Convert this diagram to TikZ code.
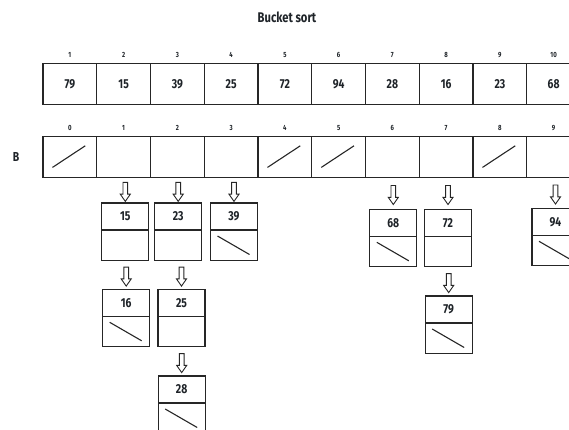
\documentclass[tikz,border=0pt]{standalone}
\usepackage{fontspec}
\setmainfont{Fira Sans}[FakeStretch=0.8]
\usepackage{tikz}
\usetikzlibrary{positioning,shapes.arrows}
\definecolor{cInk}{HTML}{1E2328}
\definecolor{cLine}{HTML}{262626}
\tikzset{
  cell/.style={draw=cLine,line width=1.35pt,minimum width=53.75pt,minimum height=40.6pt,inner sep=0pt,outer sep=0pt,font=\fontsize{13}{15}\selectfont\bfseries,text=cInk},
  idx/.style={font=\fontsize{7.5}{9}\selectfont\bfseries,text=cInk,inner sep=0pt},
  valbox/.style={draw=cLine,line width=1.35pt,minimum width=47pt,minimum height=27pt,inner sep=0pt,outer sep=0pt,font=\fontsize{13}{15}\selectfont\bfseries,text=cInk},
  ptrbox/.style={draw=cLine,line width=1.35pt,minimum width=47pt,minimum height=30.5pt,inner sep=0pt,outer sep=0pt},
  nil/.style={line width=1.1pt,cLine},
  harrow/.style={single arrow,draw=cLine,fill=white,line width=0.9pt,inner sep=1.9pt,minimum height=19pt,single arrow head extend=2.7pt,single arrow tip angle=70,single arrow head indent=0pt,rotate=-90},
}

\begin{document}
\begin{tikzpicture}[x=1pt,y=-1pt]
  \useasboundingbox (0,0) rectangle (569,429);
  \node[font=\fontsize{14}{16}\selectfont\bfseries,text=cInk] (title) at (287,17) {Bucket sort};
  % input array
  \foreach \v [count=\i] in {79,15,39,25,72,94,28,16,23,68} {
    \node[cell] (a\i) at ({43+(\i-0.5)*53.75},84) {\v};
    \node[idx,above=6pt of a\i] {\i};
  }
  % bucket array B
  \node[font=\fontsize{13}{15}\selectfont\bfseries,text=cInk] (blbl) at (16,157) {B};
  \foreach \i in {0,...,9} {
    \node[cell] (b\i) at ({43+(\i+0.5)*53.75},157.1) {};
    \node[idx,above=6pt of b\i] {\i};
  }
  \foreach \i in {0,4,5,8}
    \draw[nil] ([shift={(9.5,-10)}]b\i.south west) -- ([shift={(-11.5,9)}]b\i.north east);

  % bucket lists
  \node[valbox] (l15) at (125.3,216.5) {15};
  \node[ptrbox,below=0pt of l15] (l15p) {};
  \node[valbox] (l23) at (178.2,216.5) {23};
  \node[ptrbox,below=0pt of l23] (l23p) {};
  \node[valbox] (l39) at (234,216.5) {39};
  \node[ptrbox,below=0pt of l39] (l39p) {};
  \node[valbox] (l16) at (126.2,302.8) {16};
  \node[ptrbox,below=0pt of l16] (l16p) {};
  \node[valbox] (l25) at (181.5,302.8) {25};
  \node[ptrbox,below=0pt of l25] (l25p) {};
  \node[valbox] (l28) at (181.7,389.5) {28};
  \node[ptrbox,below=0pt of l28] (l28p) {};
  \node[valbox] (l68) at (393.3,222.8) {68};
  \node[ptrbox,below=0pt of l68] (l68p) {};
  \node[valbox] (l72) at (448,222.8) {72};
  \node[ptrbox,below=0pt of l72] (l72p) {};
  \node[valbox] (l79) at (448.7,309.5) {79};
  \node[ptrbox,below=0pt of l79] (l79p) {};
  \node[valbox] (l94) at (555.5,221.8) {94};
  \node[ptrbox,below=0pt of l94] (l94p) {};

  % null pointers
  \foreach \n in {l39p,l16p,l28p,l68p,l79p,l94p}
    \draw[nil] ([shift={(7,6)}]\n.north west) -- ([shift={(-8,-6)}]\n.south east);

  % links
  \path (l15.north |- b1.south) -- (l15.north) node[midway,harrow] {};
  \path (l23.north |- b2.south) -- (l23.north) node[midway,harrow] {};
  \path (l39.north |- b3.south) -- (l39.north) node[midway,harrow] {};
  \path (l68.north |- b6.south) -- (l68.north) node[midway,harrow] {};
  \path (l72.north |- b7.south) -- (l72.north) node[midway,harrow] {};
  \path (l94.north |- b9.south) -- (l94.north) node[midway,harrow] {};
  \path (l16.north |- l15p.south) -- (l16.north) node[midway,harrow] {};
  \path (l25.north |- l23p.south) -- (l25.north) node[midway,harrow] {};
  \path (l28.north |- l25p.south) -- (l28.north) node[midway,harrow] {};
  \path (l79.north |- l72p.south) -- (l79.north) node[midway,harrow] {};
\end{tikzpicture}
\end{document}
